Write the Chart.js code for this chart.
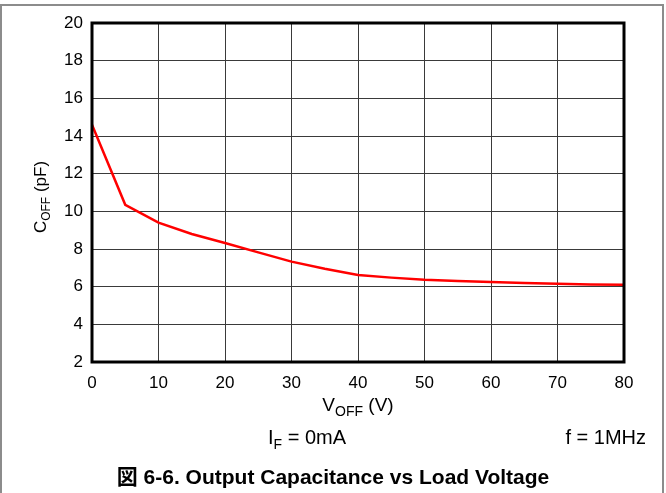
<!DOCTYPE html>
<html>
<head>
<meta charset="utf-8">
<script src="https://cdn.jsdelivr.net/npm/chart.js@4"></script>
<style>
  html, body { margin: 0; padding: 0; background: #fff; }
  #wrap { position: relative; width: 666px; height: 493px; overflow: hidden; }
  #frame { position: absolute; left: 0; top: 4px; width: 660px; height: 600px;
           border: 2px solid #8c8c8c; border-bottom: none; }
  #chart { position: absolute; left: 0; top: 0; }
</style>
</head>
<body>
<div id="wrap">
  <div id="frame"></div>
  <canvas id="chart" width="666" height="493"></canvas>
</div>
<script>
var voltages = [0, 5, 10, 15, 20, 25, 30, 35, 40, 45, 50, 55, 60, 65, 70, 75, 80];
var capacitance = [14.6, 10.35, 9.4, 8.8, 8.32, 7.82, 7.33, 6.95, 6.62, 6.48, 6.37, 6.3, 6.25, 6.2, 6.16, 6.12, 6.1];
var xTicks = [0, 10, 20, 30, 40, 50, 60, 70, 80];
var yTicks = [2, 4, 6, 8, 10, 12, 14, 16, 18, 20];

var FONT = '"Liberation Sans", Arial, "Noto Sans CJK JP", sans-serif';

// draws text with a subscripted part: parts = [[text, isSub], ...]
function drawSubText(ctx, parts, x, y, size, align) {
    var subSize = Math.round(size * 0.72);
    var total = 0;
    parts.forEach(function (p) {
        ctx.font = (p[1] ? subSize : size) + 'px ' + FONT;
        total += ctx.measureText(p[0]).width;
    });
    var cx = x;
    if (align === 'center') cx = x - total / 2;
    if (align === 'right') cx = x - total;
    ctx.textAlign = 'left';
    ctx.textBaseline = 'alphabetic';
    parts.forEach(function (p) {
        ctx.font = (p[1] ? subSize : size) + 'px ' + FONT;
        ctx.fillText(p[0], cx, p[1] ? y + size * 0.25 : y);
        cx += ctx.measureText(p[0]).width;
    });
}

var labelsPlugin = {
    id: 'labels',
    afterDraw: function (chart) {
        var ctx = chart.ctx;
        var a = chart.chartArea;
        ctx.save();
        // heavy box around the plot
        ctx.strokeStyle = '#000';
        ctx.lineWidth = 3;
        ctx.strokeRect(a.left, a.top, a.right - a.left, a.bottom - a.top);

        ctx.fillStyle = '#000';
        drawSubText(ctx, [['V', false], ['OFF', true], [' (V)', false]], (a.left + a.right) / 2, 411, 19, 'center');
        drawSubText(ctx, [['I', false], ['F', true], [' = 0mA', false]], 268, 444, 20, 'left');
        drawSubText(ctx, [['f = 1MHz', false]], 646, 444, 20, 'right');

        ctx.save();
        ctx.translate(46, 197);
        ctx.rotate(-Math.PI / 2);
        drawSubText(ctx, [['C', false], ['OFF', true], [' (pF)', false]], 0, 0, 17, 'center');
        ctx.restore();

        ctx.font = 'bold 21px ' + FONT;
        ctx.textAlign = 'center';
        ctx.fillText('図 6-6. Output Capacitance vs Load Voltage', 333, 484);
        ctx.restore();
    }
};

new Chart(document.getElementById('chart'), {
    type: 'line',
    data: {
        datasets: [{
            data: voltages.map(function (v, i) { return { x: v, y: capacitance[i] }; }),
            borderColor: '#ff0000',
            borderWidth: 2.5,
            pointRadius: 0,
            tension: 0,
            fill: false
        }]
    },
    options: {
        responsive: false,
        animation: false,
        devicePixelRatio: 1,
        layout: { padding: { left: 0, top: 23, right: 42, bottom: 81 } },
        plugins: { legend: { display: false }, tooltip: { enabled: false } },
        scales: {
            x: {
                type: 'linear',
                min: 0,
                max: 80,
                afterBuildTicks: function (s) { s.ticks = xTicks.map(function (v) { return { value: v }; }); },
                afterFit: function (s) { s.height = 50; },
                grid: { color: '#3a3a3a', lineWidth: 1, drawTicks: false },
                border: { display: false },
                ticks: { color: '#000', padding: 11, maxRotation: 0, font: { family: FONT, size: 17 } }
            },
            y: {
                min: 2,
                max: 20,
                afterBuildTicks: function (s) { s.ticks = yTicks.map(function (v) { return { value: v }; }); },
                afterFit: function (s) { s.width = 92; },
                grid: { color: '#3a3a3a', lineWidth: 1, drawTicks: false },
                border: { display: false },
                ticks: { color: '#000', padding: 9, font: { family: FONT, size: 17 } }
            }
        }
    },
    plugins: [labelsPlugin]
});
</script>
</body>
</html>
